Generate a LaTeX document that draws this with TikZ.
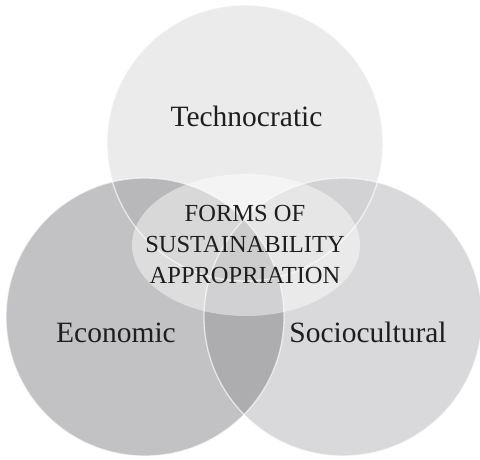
\documentclass[tikz,border=0pt]{standalone}
\usepackage{fontspec}
\setmainfont{Liberation Serif}
\definecolor{cT}{RGB}{235,235,235}
\definecolor{cL}{RGB}{194,194,196}
\definecolor{cR}{RGB}{217,217,219}
\definecolor{cTL}{RGB}{184,184,186}
\definecolor{cTR}{RGB}{210,210,212}
\definecolor{cLR}{RGB}{173,173,175}
\definecolor{cTLR}{RGB}{165,165,167}
\definecolor{txt}{RGB}{30,30,30}
\begin{document}
\begin{tikzpicture}[x=1pt,y=-1pt,
  ring/.style={draw=white,line width=1.3pt,draw opacity=0.65},
  bigtxt/.style={inner sep=0pt,anchor=base,text=txt,font=\fontsize{29.5}{32}\selectfont},
  midtxt/.style={inner sep=0pt,align=center,text=txt,font=\fontsize{24.5}{31}\selectfont}]
\useasboundingbox (0,0) rectangle (480,460);
\coordinate (ct) at (245,143);
\coordinate (cl) at (145,317);
\coordinate (cr) at (343,317);
\coordinate (ce) at (246,245);
% base fills
\fill[cT] (ct) circle[radius=138pt];
\fill[cL] (cl) circle[radius=139pt];
\fill[cR] (cr) circle[radius=139pt];
\begin{scope}
  \clip (ct) circle[radius=138pt];
  \fill[cTL] (cl) circle[radius=139pt];
  \fill[cTR] (cr) circle[radius=139pt];
\end{scope}
\begin{scope}
  \clip (cl) circle[radius=139pt];
  \fill[cLR] (cr) circle[radius=139pt];
  \clip (cr) circle[radius=139pt];
  \fill[cTLR] (ct) circle[radius=138pt];
\end{scope}
% outlines
\draw[ring] (ct) circle[radius=138pt];
\draw[ring] (cl) circle[radius=139pt];
\draw[ring] (cr) circle[radius=139pt];
% central ellipse
\fill[white,fill opacity=0.45] (ce) ellipse[x radius=114pt,y radius=71pt];
% labels
\node[bigtxt] (tech) at (246.5,127) {Technocratic};
\node[bigtxt] (econ) at (116,342) {Economic};
\node[bigtxt] (socio) at (368,342) {Sociocultural};
\node[midtxt] (forms) at (245,245) {FORMS OF\\SUSTAINABILITY\\APPROPRIATION};
\end{tikzpicture}
\end{document}
